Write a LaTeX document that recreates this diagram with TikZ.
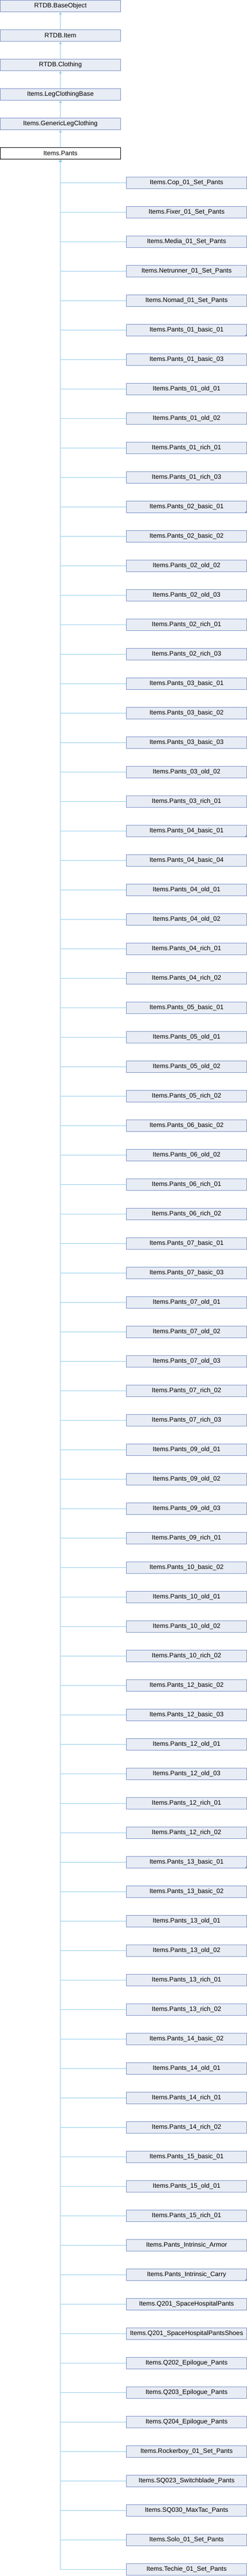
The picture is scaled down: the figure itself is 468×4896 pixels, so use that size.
\documentclass[tikz,border=0pt]{standalone}
\usepackage{fontspec}
\setmainfont{Liberation Sans}
\usepackage{xcolor}
\usepackage{tikz}
\usetikzlibrary{arrows, arrows.meta}

\definecolor{boxfill}{HTML}{E8ECF4}
\definecolor{boxline}{HTML}{7A92C6}
\definecolor{edgeblue}{HTML}{93CDEB}

\begin{document}
\begin{tikzpicture}[x=1pt,y=-1pt,
  cls/.style={draw=boxline,fill=boxfill,line width=1pt,minimum width=228pt,minimum height=22pt,inner sep=0pt,font=\fontsize{12.2}{14}\selectfont},
  cur/.style={cls,draw=black,fill=white},
  edge/.style={draw=edgeblue,line width=1pt,-{Triangle[length=4.5pt,width=5pt]}},
  corner/.style={fill=boxline}]
\useasboundingbox (0,0) rectangle (468,4896);
%\draw[step=56pt,gray,very thin] (0,0) grid (468,4896);
% base classes
\node[cls] (base) at (114.5,11.5) {RTDB.BaseObject};
\node[cls] (item) at (114.5,67.5) {RTDB.Item};
\node[cls] (clothing) at (114.5,123.5) {RTDB.Clothing};
\node[cls] (legbase) at (114.5,179.5) {Items.LegClothingBase};
\node[cls] (legclothing) at (114.5,235.5) {Items.GenericLegClothing};
\node[cur] (pants) at (114.5,291.5) {Items.Pants};
\draw[edge] (item.north) -- (base.south);
\draw[edge] (clothing.north) -- (item.south);
\draw[edge] (legbase.north) -- (clothing.south);
\draw[edge] (legclothing.north) -- (legbase.south);
\draw[edge] (pants.north) -- (legclothing.south);
% derived classes
\node[cls] (cop) at (353.5,347.5) {Items.Cop\_01\_Set\_Pants};
\node[cls] (fixer) at (353.5,403.5) {Items.Fixer\_01\_Set\_Pants};
\node[cls] (media) at (353.5,459.5) {Items.Media\_01\_Set\_Pants};
\node[cls] (netrunner) at (353.5,515.5) {Items.Netrunner\_01\_Set\_Pants};
\node[cls] (nomad) at (353.5,571.5) {Items.Nomad\_01\_Set\_Pants};
\node[cls] (p01b01) at (353.5,627.5) {Items.Pants\_01\_basic\_01};
\node[cls] (p01b03) at (353.5,683.5) {Items.Pants\_01\_basic\_03};
\node[cls] (p01o01) at (353.5,739.5) {Items.Pants\_01\_old\_01};
\node[cls] (p01o02) at (353.5,795.5) {Items.Pants\_01\_old\_02};
\node[cls] (p01r01) at (353.5,851.5) {Items.Pants\_01\_rich\_01};
\node[cls] (p01r03) at (353.5,907.5) {Items.Pants\_01\_rich\_03};
\node[cls] (p02b01) at (353.5,963.5) {Items.Pants\_02\_basic\_01};
\node[cls] (p02b02) at (353.5,1019.5) {Items.Pants\_02\_basic\_02};
\node[cls] (p02o02) at (353.5,1075.5) {Items.Pants\_02\_old\_02};
\node[cls] (p02o03) at (353.5,1131.5) {Items.Pants\_02\_old\_03};
\node[cls] (p02r01) at (353.5,1187.5) {Items.Pants\_02\_rich\_01};
\node[cls] (p02r03) at (353.5,1243.5) {Items.Pants\_02\_rich\_03};
\node[cls] (p03b01) at (353.5,1299.5) {Items.Pants\_03\_basic\_01};
\node[cls] (p03b02) at (353.5,1355.5) {Items.Pants\_03\_basic\_02};
\node[cls] (p03b03) at (353.5,1411.5) {Items.Pants\_03\_basic\_03};
\node[cls] (p03o02) at (353.5,1467.5) {Items.Pants\_03\_old\_02};
\node[cls] (p03r01) at (353.5,1523.5) {Items.Pants\_03\_rich\_01};
\node[cls] (p04b01) at (353.5,1579.5) {Items.Pants\_04\_basic\_01};
\node[cls] (p04b04) at (353.5,1635.5) {Items.Pants\_04\_basic\_04};
\node[cls] (p04o01) at (353.5,1691.5) {Items.Pants\_04\_old\_01};
\node[cls] (p04o02) at (353.5,1747.5) {Items.Pants\_04\_old\_02};
\node[cls] (p04r01) at (353.5,1803.5) {Items.Pants\_04\_rich\_01};
\node[cls] (p04r02) at (353.5,1859.5) {Items.Pants\_04\_rich\_02};
\node[cls] (p05b01) at (353.5,1915.5) {Items.Pants\_05\_basic\_01};
\node[cls] (p05o01) at (353.5,1971.5) {Items.Pants\_05\_old\_01};
\node[cls] (p05o02) at (353.5,2027.5) {Items.Pants\_05\_old\_02};
\node[cls] (p05r02) at (353.5,2083.5) {Items.Pants\_05\_rich\_02};
\node[cls] (p06b02) at (353.5,2139.5) {Items.Pants\_06\_basic\_02};
\node[cls] (p06o02) at (353.5,2195.5) {Items.Pants\_06\_old\_02};
\node[cls] (p06r01) at (353.5,2251.5) {Items.Pants\_06\_rich\_01};
\node[cls] (p06r02) at (353.5,2307.5) {Items.Pants\_06\_rich\_02};
\node[cls] (p07b01) at (353.5,2363.5) {Items.Pants\_07\_basic\_01};
\node[cls] (p07b03) at (353.5,2419.5) {Items.Pants\_07\_basic\_03};
\node[cls] (p07o01) at (353.5,2475.5) {Items.Pants\_07\_old\_01};
\node[cls] (p07o02) at (353.5,2531.5) {Items.Pants\_07\_old\_02};
\node[cls] (p07o03) at (353.5,2587.5) {Items.Pants\_07\_old\_03};
\node[cls] (p07r02) at (353.5,2643.5) {Items.Pants\_07\_rich\_02};
\node[cls] (p07r03) at (353.5,2699.5) {Items.Pants\_07\_rich\_03};
\node[cls] (p09o01) at (353.5,2755.5) {Items.Pants\_09\_old\_01};
\node[cls] (p09o02) at (353.5,2811.5) {Items.Pants\_09\_old\_02};
\node[cls] (p09o03) at (353.5,2867.5) {Items.Pants\_09\_old\_03};
\node[cls] (p09r01) at (353.5,2923.5) {Items.Pants\_09\_rich\_01};
\node[cls] (p10b02) at (353.5,2979.5) {Items.Pants\_10\_basic\_02};
\node[cls] (p10o01) at (353.5,3035.5) {Items.Pants\_10\_old\_01};
\node[cls] (p10o02) at (353.5,3091.5) {Items.Pants\_10\_old\_02};
\node[cls] (p10r02) at (353.5,3147.5) {Items.Pants\_10\_rich\_02};
\node[cls] (p12b02) at (353.5,3203.5) {Items.Pants\_12\_basic\_02};
\node[cls] (p12b03) at (353.5,3259.5) {Items.Pants\_12\_basic\_03};
\node[cls] (p12o01) at (353.5,3315.5) {Items.Pants\_12\_old\_01};
\node[cls] (p12o03) at (353.5,3371.5) {Items.Pants\_12\_old\_03};
\node[cls] (p12r01) at (353.5,3427.5) {Items.Pants\_12\_rich\_01};
\node[cls] (p12r02) at (353.5,3483.5) {Items.Pants\_12\_rich\_02};
\node[cls] (p13b01) at (353.5,3539.5) {Items.Pants\_13\_basic\_01};
\node[cls] (p13b02) at (353.5,3595.5) {Items.Pants\_13\_basic\_02};
\node[cls] (p13o01) at (353.5,3651.5) {Items.Pants\_13\_old\_01};
\node[cls] (p13o02) at (353.5,3707.5) {Items.Pants\_13\_old\_02};
\node[cls] (p13r01) at (353.5,3763.5) {Items.Pants\_13\_rich\_01};
\node[cls] (p13r02) at (353.5,3819.5) {Items.Pants\_13\_rich\_02};
\node[cls] (p14b02) at (353.5,3875.5) {Items.Pants\_14\_basic\_02};
\node[cls] (p14o01) at (353.5,3931.5) {Items.Pants\_14\_old\_01};
\node[cls] (p14r01) at (353.5,3987.5) {Items.Pants\_14\_rich\_01};
\node[cls] (p14r02) at (353.5,4043.5) {Items.Pants\_14\_rich\_02};
\node[cls] (p15b01) at (353.5,4099.5) {Items.Pants\_15\_basic\_01};
\node[cls] (p15o01) at (353.5,4155.5) {Items.Pants\_15\_old\_01};
\node[cls] (p15r01) at (353.5,4211.5) {Items.Pants\_15\_rich\_01};
\node[cls] (armor) at (353.5,4267.5) {Items.Pants\_Intrinsic\_Armor};
\node[cls] (carry) at (353.5,4323.5) {Items.Pants\_Intrinsic\_Carry};
\node[cls] (q201) at (353.5,4379.5) {Items.Q201\_SpaceHospitalPants};
\node[cls] (q201shoes) at (353.5,4435.5) {Items.Q201\_SpaceHospitalPantsShoes};
\node[cls] (q202) at (353.5,4491.5) {Items.Q202\_Epilogue\_Pants};
\node[cls] (q203) at (353.5,4547.5) {Items.Q203\_Epilogue\_Pants};
\node[cls] (q204) at (353.5,4603.5) {Items.Q204\_Epilogue\_Pants};
\node[cls] (rocker) at (353.5,4659.5) {Items.Rockerboy\_01\_Set\_Pants};
\node[cls] (sq023) at (353.5,4715.5) {Items.SQ023\_Switchblade\_Pants};
\node[cls] (sq030) at (353.5,4771.5) {Items.SQ030\_MaxTac\_Pants};
\node[cls] (solo) at (353.5,4827.5) {Items.Solo\_01\_Set\_Pants};
\node[cls] (techie) at (353.5,4883.5) {Items.Techie\_01\_Set\_Pants};
% marks for classes with further children
\fill[corner] (p01b01.south east) -- ++(-5pt,0pt) -- ++(5pt,5pt) -- cycle;
\fill[corner] (p02b01.south east) -- ++(-5pt,0pt) -- ++(5pt,5pt) -- cycle;
\fill[corner] (p04b01.south east) -- ++(-5pt,0pt) -- ++(5pt,5pt) -- cycle;
\fill[corner] (p13b01.south east) -- ++(-5pt,0pt) -- ++(5pt,5pt) -- cycle;
\fill[corner] (carry.south east) -- ++(-5pt,0pt) -- ++(5pt,5pt) -- cycle;
% edges to Items.Pants
\draw[edge] (cop.west) -| (pants.south);
\draw[edge] (fixer.west) -| (pants.south);
\draw[edge] (media.west) -| (pants.south);
\draw[edge] (netrunner.west) -| (pants.south);
\draw[edge] (nomad.west) -| (pants.south);
\draw[edge] (p01b01.west) -| (pants.south);
\draw[edge] (p01b03.west) -| (pants.south);
\draw[edge] (p01o01.west) -| (pants.south);
\draw[edge] (p01o02.west) -| (pants.south);
\draw[edge] (p01r01.west) -| (pants.south);
\draw[edge] (p01r03.west) -| (pants.south);
\draw[edge] (p02b01.west) -| (pants.south);
\draw[edge] (p02b02.west) -| (pants.south);
\draw[edge] (p02o02.west) -| (pants.south);
\draw[edge] (p02o03.west) -| (pants.south);
\draw[edge] (p02r01.west) -| (pants.south);
\draw[edge] (p02r03.west) -| (pants.south);
\draw[edge] (p03b01.west) -| (pants.south);
\draw[edge] (p03b02.west) -| (pants.south);
\draw[edge] (p03b03.west) -| (pants.south);
\draw[edge] (p03o02.west) -| (pants.south);
\draw[edge] (p03r01.west) -| (pants.south);
\draw[edge] (p04b01.west) -| (pants.south);
\draw[edge] (p04b04.west) -| (pants.south);
\draw[edge] (p04o01.west) -| (pants.south);
\draw[edge] (p04o02.west) -| (pants.south);
\draw[edge] (p04r01.west) -| (pants.south);
\draw[edge] (p04r02.west) -| (pants.south);
\draw[edge] (p05b01.west) -| (pants.south);
\draw[edge] (p05o01.west) -| (pants.south);
\draw[edge] (p05o02.west) -| (pants.south);
\draw[edge] (p05r02.west) -| (pants.south);
\draw[edge] (p06b02.west) -| (pants.south);
\draw[edge] (p06o02.west) -| (pants.south);
\draw[edge] (p06r01.west) -| (pants.south);
\draw[edge] (p06r02.west) -| (pants.south);
\draw[edge] (p07b01.west) -| (pants.south);
\draw[edge] (p07b03.west) -| (pants.south);
\draw[edge] (p07o01.west) -| (pants.south);
\draw[edge] (p07o02.west) -| (pants.south);
\draw[edge] (p07o03.west) -| (pants.south);
\draw[edge] (p07r02.west) -| (pants.south);
\draw[edge] (p07r03.west) -| (pants.south);
\draw[edge] (p09o01.west) -| (pants.south);
\draw[edge] (p09o02.west) -| (pants.south);
\draw[edge] (p09o03.west) -| (pants.south);
\draw[edge] (p09r01.west) -| (pants.south);
\draw[edge] (p10b02.west) -| (pants.south);
\draw[edge] (p10o01.west) -| (pants.south);
\draw[edge] (p10o02.west) -| (pants.south);
\draw[edge] (p10r02.west) -| (pants.south);
\draw[edge] (p12b02.west) -| (pants.south);
\draw[edge] (p12b03.west) -| (pants.south);
\draw[edge] (p12o01.west) -| (pants.south);
\draw[edge] (p12o03.west) -| (pants.south);
\draw[edge] (p12r01.west) -| (pants.south);
\draw[edge] (p12r02.west) -| (pants.south);
\draw[edge] (p13b01.west) -| (pants.south);
\draw[edge] (p13b02.west) -| (pants.south);
\draw[edge] (p13o01.west) -| (pants.south);
\draw[edge] (p13o02.west) -| (pants.south);
\draw[edge] (p13r01.west) -| (pants.south);
\draw[edge] (p13r02.west) -| (pants.south);
\draw[edge] (p14b02.west) -| (pants.south);
\draw[edge] (p14o01.west) -| (pants.south);
\draw[edge] (p14r01.west) -| (pants.south);
\draw[edge] (p14r02.west) -| (pants.south);
\draw[edge] (p15b01.west) -| (pants.south);
\draw[edge] (p15o01.west) -| (pants.south);
\draw[edge] (p15r01.west) -| (pants.south);
\draw[edge] (armor.west) -| (pants.south);
\draw[edge] (carry.west) -| (pants.south);
\draw[edge] (q201.west) -| (pants.south);
\draw[edge] (q201shoes.west) -| (pants.south);
\draw[edge] (q202.west) -| (pants.south);
\draw[edge] (q203.west) -| (pants.south);
\draw[edge] (q204.west) -| (pants.south);
\draw[edge] (rocker.west) -| (pants.south);
\draw[edge] (sq023.west) -| (pants.south);
\draw[edge] (sq030.west) -| (pants.south);
\draw[edge] (solo.west) -| (pants.south);
\draw[edge] (techie.west) -| (pants.south);
\end{tikzpicture}
\end{document}
